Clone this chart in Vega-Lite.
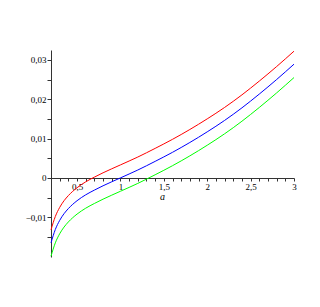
{
  "$schema": "https://vega.github.io/schema/vega-lite/v6.json",
  "width": 243,
  "height": 207,
  "autosize": "none",
  "padding": {"left": 51, "top": 50, "right": 26, "bottom": 50},
  "background": "white",
  "config": {
    "view": {"stroke": null},
    "axis": {
      "grid": false,
      "domainColor": "#333333",
      "domainWidth": 1,
      "tickColor": "#333333",
      "tickWidth": 1,
      "labelFont": "Liberation Serif",
      "labelFontSize": 9,
      "labelColor": "#000000",
      "titleFont": "Liberation Serif",
      "titleColor": "#000000"
    }
  },
  "data": {
    "values": [
      {"a": 0.2, "s": "r", "v": -0.0132}, {"a": 0.25, "s": "r", "v": -0.0098}, {"a": 0.3, "s": "r", "v": -0.0075}, {"a": 0.35, "s": "r", "v": -0.0058}, {"a": 0.4, "s": "r", "v": -0.0045}, {"a": 0.5, "s": "r", "v": -0.0025}, {"a": 0.6, "s": "r", "v": -0.0010}, {"a": 0.7, "s": "r", "v": 0.0002}, {"a": 0.8, "s": "r", "v": 0.0013}, {"a": 1.0, "s": "r", "v": 0.0033}, {"a": 1.2, "s": "r", "v": 0.0053}, {"a": 1.4, "s": "r", "v": 0.0075}, {"a": 1.6, "s": "r", "v": 0.0098}, {"a": 1.8, "s": "r", "v": 0.0123}, {"a": 2.0, "s": "r", "v": 0.0150}, {"a": 2.2, "s": "r", "v": 0.0179}, {"a": 2.4, "s": "r", "v": 0.0211}, {"a": 2.6, "s": "r", "v": 0.0246}, {"a": 2.8, "s": "r", "v": 0.0283}, {"a": 3.0, "s": "r", "v": 0.0322},
      {"a": 0.2, "s": "b", "v": -0.0165}, {"a": 0.25, "s": "b", "v": -0.0131}, {"a": 0.3, "s": "b", "v": -0.0108}, {"a": 0.35, "s": "b", "v": -0.0091}, {"a": 0.4, "s": "b", "v": -0.0078}, {"a": 0.5, "s": "b", "v": -0.0058}, {"a": 0.6, "s": "b", "v": -0.0043}, {"a": 0.7, "s": "b", "v": -0.0031}, {"a": 0.8, "s": "b", "v": -0.0020}, {"a": 1.0, "s": "b", "v": 0.0}, {"a": 1.2, "s": "b", "v": 0.0020}, {"a": 1.4, "s": "b", "v": 0.0042}, {"a": 1.6, "s": "b", "v": 0.0065}, {"a": 1.8, "s": "b", "v": 0.0090}, {"a": 2.0, "s": "b", "v": 0.0117}, {"a": 2.2, "s": "b", "v": 0.0146}, {"a": 2.4, "s": "b", "v": 0.0178}, {"a": 2.6, "s": "b", "v": 0.0213}, {"a": 2.8, "s": "b", "v": 0.0250}, {"a": 3.0, "s": "b", "v": 0.0289},
      {"a": 0.2, "s": "g", "v": -0.0199}, {"a": 0.25, "s": "g", "v": -0.0165}, {"a": 0.3, "s": "g", "v": -0.0142}, {"a": 0.35, "s": "g", "v": -0.0125}, {"a": 0.4, "s": "g", "v": -0.0112}, {"a": 0.5, "s": "g", "v": -0.0092}, {"a": 0.6, "s": "g", "v": -0.0077}, {"a": 0.7, "s": "g", "v": -0.0065}, {"a": 0.8, "s": "g", "v": -0.0054}, {"a": 1.0, "s": "g", "v": -0.0034}, {"a": 1.2, "s": "g", "v": -0.0014}, {"a": 1.4, "s": "g", "v": 0.0008}, {"a": 1.6, "s": "g", "v": 0.0031}, {"a": 1.8, "s": "g", "v": 0.0056}, {"a": 2.0, "s": "g", "v": 0.0083}, {"a": 2.2, "s": "g", "v": 0.0112}, {"a": 2.4, "s": "g", "v": 0.0144}, {"a": 2.6, "s": "g", "v": 0.0179}, {"a": 2.8, "s": "g", "v": 0.0216}, {"a": 3.0, "s": "g", "v": 0.0255}
    ]
  },
  "mark": {"type": "line", "strokeWidth": 1, "interpolate": "monotone", "clip": false},
  "encoding": {
    "x": {
      "field": "a",
      "type": "quantitative",
      "scale": {"domain": [0.2, 3], "nice": false, "zero": false},
      "axis": {
        "offset": -79,
        "values": [0.2, 0.3, 0.4, 0.5, 0.6, 0.7, 0.8, 0.9, 1, 1.1, 1.2, 1.3, 1.4, 1.5, 1.6, 1.7, 1.8, 1.9, 2, 2.1, 2.2, 2.3, 2.4, 2.5, 2.6, 2.7, 2.8, 2.9, 3],
        "labelExpr": "abs(datum.value * 2 - round(datum.value * 2)) < 0.001 ? replace(format(datum.value, '.1~f'), '.', ',') : ''",
        "labelOverlap": false,
        "labelFlush": false,
        "tickSize": 3,
        "labelPadding": 1,
        "title": "a",
        "titleFontStyle": "italic",
        "titleFontWeight": "normal",
        "titleFontSize": 10,
        "titleX": 111,
        "titleY": 13,
        "titleBaseline": "top",
        "titleAlign": "center"
      }
    },
    "y": {
      "field": "v",
      "type": "quantitative",
      "scale": {"domain": [-0.0201, 0.0325], "nice": false, "zero": false},
      "axis": {
        "values": [-0.015, -0.01, -0.005, 0, 0.005, 0.01, 0.015, 0.02, 0.025, 0.03],
        "labelExpr": "(abs(datum.value * 100 - round(datum.value * 100)) < 0.01 && datum.value > -0.015) ? replace(replace(format(datum.value, '.2~f'), '.', ','), '-', '\u2212') : ''",
        "labelOverlap": false,
        "labelFlush": false,
        "tickSize": 4,
        "labelPadding": 1,
        "title": null
      }
    },
    "color": {
      "field": "s",
      "type": "nominal",
      "scale": {"domain": ["r", "b", "g"], "range": ["#ff0000", "#0000ff", "#00ff00"]},
      "legend": null
    }
  }
}
